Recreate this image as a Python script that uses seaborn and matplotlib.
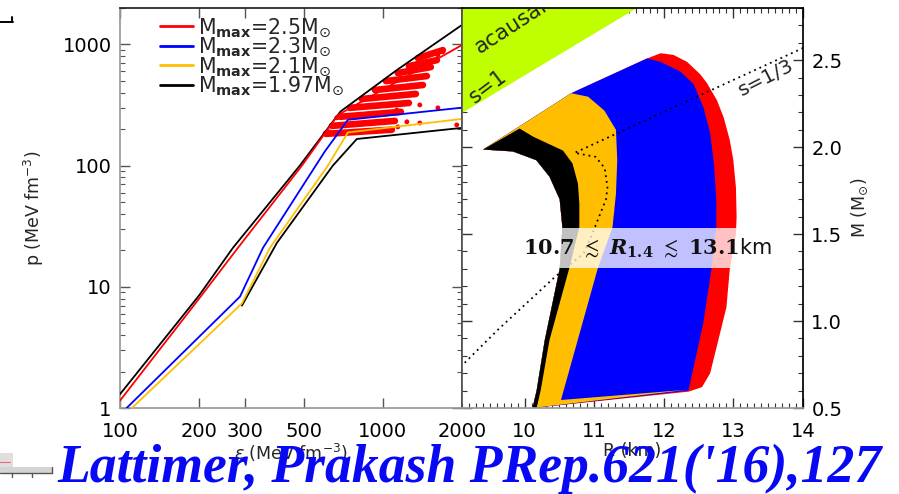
import matplotlib
matplotlib.use("Agg")
import matplotlib.pyplot as plt
import pandas as pd
import seaborn as sns
from matplotlib.lines import Line2D
from matplotlib.patches import Rectangle
from matplotlib.ticker import (FixedLocator, FixedFormatter, LogLocator,
                               MultipleLocator, NullLocator, NullFormatter)

# ---------------- left panel: pressure vs energy density ----------------
eps_red = [100, 200, 281, 492, 675, 2000]
p_red = [1.15, 8.0, 21.0, 100, 262, 990]
eps_blue = [106, 286, 350, 600, 736, 2000]
p_blue = [1.0, 8.3, 21.0, 130, 239, 301]
eps_yellow = [111, 291, 372, 618, 736, 2000]
p_yellow = [1.0, 7.3, 21.0, 100, 188, 243]
eps_black_upper = [100, 200, 269, 483, 690, 1130, 2000]
p_black_upper = [1.3, 8.5, 21.0, 100, 280, 615, 1450]
eps_black_lower = [291, 395, 645, 796, 2000]
p_black_lower = [7.0, 23.0, 100, 166, 205]

# dense bands of sampled EOS points (start / end of each band)
band_eps_start = [1359, 1256, 1140, 1027, 933, 832, 749, 687, 640, 607]
band_p_start = [772, 663, 581, 499, 421, 355, 300, 253, 213, 183]
band_eps_end = [1691, 1605, 1522, 1470, 1420, 1335, 1256, 1171, 1111, 1082]
band_p_end = [898, 743, 651, 549, 463, 391, 329, 278, 234, 198]
# isolated sampled points
dot_eps = [1382, 1619, 1130, 1234, 1382, 1910, 1140, 1018, 628, 668, 705, 1619, 1691]
dot_p = [317, 300, 288, 230, 225, 217, 209, 198, 190, 248, 253, 817, 870]

legend_labels = [r"M$_{\mathbf{max}}$=2.5M$_{\odot}$", r"M$_{\mathbf{max}}$=2.3M$_{\odot}$",
                 r"M$_{\mathbf{max}}$=2.1M$_{\odot}$", r"M$_{\mathbf{max}}$=1.97M$_{\odot}$"]
eps_ticks = [100, 200, 300, 500, 1000, 2000]
eps_tick_labels = ["100", "200", "300", "500", "1000", "2000"]
p_ticks = [1, 10, 100, 1000]
p_tick_labels = ["1", "10", "100", "1000"]

# ---------------- right panel: mass-radius regions ----------------
# minimum-radius boundary (shared by all regions), bottom -> top
inner_R = [10.113, 10.172, 10.289, 10.503, 10.542, 10.503, 10.357, 10.167, 9.831, 9.402]
inner_M = [0.50, 0.60, 0.89, 1.30, 1.54, 1.70, 1.83, 1.925, 1.975, 1.986]
# maximum-mass corners
top_R = [9.928, 10.669, 11.760]
top_M = [2.12, 2.31, 2.51]
# outer boundaries, top -> bottom
black_R = [9.928, 10.123, 10.552, 10.688, 10.766, 10.786, 10.786, 10.639, 10.357, 10.230, 10.172]
black_M = [2.107, 2.06, 1.98, 1.906, 1.79, 1.676, 1.54, 1.30, 0.89, 0.60, 0.50]
yellow_R = [10.912, 11.146, 11.312, 11.331, 11.312, 11.263, 11.049, 10.522, 12.335]
yellow_M = [2.29, 2.21, 2.10, 1.925, 1.73, 1.54, 1.30, 0.546, 0.605]
blue_R = [11.955, 12.237, 12.432, 12.568, 12.666, 12.724, 12.754, 12.754, 12.685, 12.568, 12.354]
blue_M = [2.49, 2.435, 2.36, 2.23, 2.08, 1.89, 1.70, 1.53, 1.30, 0.99, 0.60]
red_R = [11.955, 12.140, 12.335, 12.520, 12.617, 12.763, 12.861, 12.948, 12.997, 13.036,
         13.046, 13.036, 12.948, 12.900, 12.783, 12.666, 12.549, 12.354]
red_M = [2.54, 2.53, 2.49, 2.42, 2.37, 2.27, 2.17, 2.04, 1.93, 1.77,
         1.60, 1.50, 1.30, 1.08, 0.89, 0.70, 0.62, 0.594]
# s = 1/3 curve
s13_R = [9.139, 9.616, 10.425, 10.85, 10.97, 11.07, 11.17, 11.19, 11.15, 11.02, 10.717, 14.0]
s13_M = [0.76, 0.95, 1.25, 1.39, 1.50, 1.60, 1.70, 1.77, 1.88, 1.944, 1.967, 2.57]
# acausal region
acausal_R = [9.1, 9.1, 11.614]
acausal_M = [2.195, 2.8, 2.8]

R_ticks = [10, 11, 12, 13, 14]
R_tick_labels = ["10", "11", "12", "13", "14"]
M_ticks = [0.5, 1.0, 1.5, 2.0, 2.5]
M_tick_labels = ["0.5", "1.0", "1.5", "2.0", "2.5"]

C_RED, C_BLUE, C_YEL, C_BLK, C_GRN = "#ff0000", "#0000ff", "#ffbf00", "#000000", "#bfff00"
SPINE_GRAY = "#9a9a9a"

sns.set_theme(style="ticks")
plt.rcParams["font.family"] = ["DejaVu Sans"]
plt.rcParams["mathtext.fontset"] = "dejavusans"

fig = plt.figure(figsize=(8.99, 4.94), dpi=100)
W, H = 899.0, 494.0
ax1 = fig.add_axes([120 / W, 86 / H, 342 / W, 400 / H])
ax2 = fig.add_axes([462 / W, 86 / H, 341 / W, 400 / H])

FS = 14

# ---------------- left panel ----------------
ax1.set_xscale("log")
ax1.set_yscale("log")

bands = pd.DataFrame({
    "band": list(range(len(band_eps_start))) * 2,
    "eps": band_eps_start + band_eps_end,
    "p": band_p_start + band_p_end,
})
sns.lineplot(data=bands, x="eps", y="p", units="band", estimator=None, sort=False,
             color=C_RED, lw=4.8, solid_capstyle="round", ax=ax1, zorder=2)
sns.scatterplot(x=dot_eps, y=dot_p, color=C_RED, s=12, edgecolor="none", ax=ax1, zorder=2)

curves = [
    (eps_black_lower, p_black_lower, C_BLK),
    (eps_black_upper, p_black_upper, C_BLK),
    (eps_yellow, p_yellow, C_YEL),
    (eps_blue, p_blue, C_BLUE),
    (eps_red, p_red, C_RED),
]
for xs, ys, c in curves:
    sns.lineplot(x=xs, y=ys, color=c, lw=1.3, estimator=None, sort=False, ax=ax1, zorder=3)

ax1.set_xlim(100, 2000)
ax1.set_ylim(1, 2000)
ax1.xaxis.set_major_locator(FixedLocator(eps_ticks))
ax1.xaxis.set_major_formatter(FixedFormatter(eps_tick_labels))
ax1.xaxis.set_minor_locator(NullLocator())
ax1.yaxis.set_major_locator(FixedLocator(p_ticks))
ax1.yaxis.set_major_formatter(FixedFormatter(p_tick_labels))
ax1.yaxis.set_minor_locator(LogLocator(base=10, subs=range(2, 10)))
ax1.yaxis.set_minor_formatter(NullFormatter())
ax1.tick_params(which="both", direction="in", top=True, right=True,
                labelsize=FS, color="#555555", labelcolor="black")
ax1.tick_params(which="major", length=7, width=1)
ax1.tick_params(which="minor", length=3.5, width=0.8)
ax1.tick_params(axis="x", pad=10)
ax1.tick_params(axis="y", pad=6)
for side in ("left", "bottom"):
    ax1.spines[side].set_color(SPINE_GRAY)
for side in ("top", "right"):
    ax1.spines[side].set_color("#222222")
ax1.set_xlabel(r"$\epsilon$ (MeV fm$^{-3}$)", fontsize=12.5)
ax1.set_ylabel(r"p (MeV fm$^{-3}$)", fontsize=12.5)
ax1.xaxis.set_label_coords(0.5, -0.085)
ax1.yaxis.set_label_coords(-0.215, 0.5)

handles = [Line2D([], [], color=c, lw=2) for c in (C_RED, C_BLUE, C_YEL, C_BLK)]
ax1.legend(handles, legend_labels, loc="upper left", bbox_to_anchor=(0.117, 0.98),
           frameon=False, fontsize=14.8, handlelength=1.6, handletextpad=0.24,
           labelspacing=-0.17, borderaxespad=0.0, borderpad=0.0)

# ---------------- right panel ----------------
ax2.fill(acausal_R, acausal_M, color=C_GRN, lw=0, zorder=1)
ax2.fill(inner_R + top_R + red_R, inner_M + top_M + red_M, color=C_RED, lw=0, zorder=2)
ax2.fill(inner_R + top_R + blue_R, inner_M + top_M + blue_M, color=C_BLUE, lw=0, zorder=2)
ax2.fill(inner_R + top_R[:2] + yellow_R, inner_M + top_M[:2] + yellow_M, color=C_YEL, lw=0, zorder=2)
ax2.fill(inner_R + black_R, inner_M + black_M, color=C_BLK, lw=0, zorder=2)
sns.lineplot(x=s13_R, y=s13_M, sort=False, estimator=None, color="black", lw=1.3,
             linestyle=(0, (1, 2.2)), ax=ax2, zorder=3)

ax2.set_xlim(9.1, 14.0)
ax2.set_ylim(0.5, 2.8)
ax2.xaxis.set_major_locator(FixedLocator(R_ticks))
ax2.xaxis.set_major_formatter(FixedFormatter(R_tick_labels))
ax2.xaxis.set_minor_locator(MultipleLocator(0.1))
ax2.yaxis.set_major_locator(FixedLocator(M_ticks))
ax2.yaxis.set_major_formatter(FixedFormatter(M_tick_labels))
ax2.yaxis.set_minor_locator(MultipleLocator(0.1))
ax2.tick_params(which="both", direction="in", top=True, bottom=True, left=True, right=True,
                labelleft=False, labelright=True, labelsize=FS, color="#333333",
                labelcolor="black")
ax2.tick_params(which="major", length=7, width=1)
ax2.tick_params(which="minor", length=3.5, width=0.8)
ax2.tick_params(axis="x", pad=10)
ax2.tick_params(axis="y", pad=6)
ax2.spines["bottom"].set_color(SPINE_GRAY)
ax2.spines["left"].set_color("#555555")
ax2.spines["top"].set_color("black")
ax2.spines["right"].set_color("black")
ax2.set_xlabel("R (km)", fontsize=12.5)
ax2.xaxis.set_label_coords(0.5, -0.085)
ax2.yaxis.set_label_position("right")
ax2.set_ylabel(r"M (M$_{\odot}$)", fontsize=12.5)
ax2.yaxis.set_label_coords(1.138, 0.5)

ax2.text(9.80, 2.69, "acausal", rotation=33, fontsize=15.5, ha="center", va="center",
         clip_on=True, zorder=4)
ax2.text(9.471, 2.345, "s=1", rotation=37, fontsize=15, ha="center", va="center", zorder=4)
ax2.text(13.47, 2.40, "s=1/3", rotation=27, fontsize=14.5, ha="center", va="center", zorder=4)

ax2.add_patch(Rectangle((9.857, 1.305), 13.643 - 9.857, 1.534 - 1.305, facecolor="white",
                        alpha=0.76, lw=0, zorder=5))
ax2.text(11.757, 1.42,
         r"$\mathbf{10.7}\ \lesssim\ \mathbfit{R}_{\mathbf{1.4}}\ \lesssim\ \mathbf{13.1}$km",
         math_fontfamily="dejavuserif", fontsize=15, color="#111111",
         ha="center", va="center", zorder=6)

# ---------------- page furniture ----------------
fig.add_artist(Line2D([0, 13 / W], [1 - 22 / H, 1 - 22 / H], color="black", lw=1.4,
                      transform=fig.transFigure))
fig.add_artist(Line2D([12 / W, 12 / W], [1 - 17 / H, 1 - 22 / H], color="black", lw=1.4,
                      transform=fig.transFigure))
fig.add_artist(Rectangle((0, 1 - 467 / H), 13 / W, 14 / H, transform=fig.transFigure,
                         facecolor="#e2dede", lw=0))
fig.add_artist(Line2D([0, 10 / W], [1 - 462 / H, 1 - 462 / H], color="#e07070", lw=0.8,
                      transform=fig.transFigure))
fig.add_artist(Rectangle((0, 1 - 473 / H), 52 / W, 6 / H, transform=fig.transFigure,
                         facecolor="#d4d4d4", lw=0))
fig.add_artist(Line2D([0, 52 / W], [1 - 473 / H, 1 - 473 / H], color="#555555", lw=1,
                      transform=fig.transFigure))
fig.add_artist(Line2D([52 / W, 52 / W], [1 - 467 / H, 1 - 473 / H], color="#555555", lw=1,
                      transform=fig.transFigure))
for xp in (12, 32):
    fig.add_artist(Line2D([xp / W, xp / W], [1 - 473 / H, 1 - 477 / H], color="#555555",
                          lw=1, transform=fig.transFigure))

fig.text(57 / W, 1 - 482 / H, "Lattimer, Prakash PRep.621('16),127",
         fontfamily="Liberation Serif", fontstyle="italic", fontweight="bold",
         fontsize=38.6, color="#0808f4", ha="left", va="baseline", zorder=10)

fig.savefig("out.png", dpi=100)
